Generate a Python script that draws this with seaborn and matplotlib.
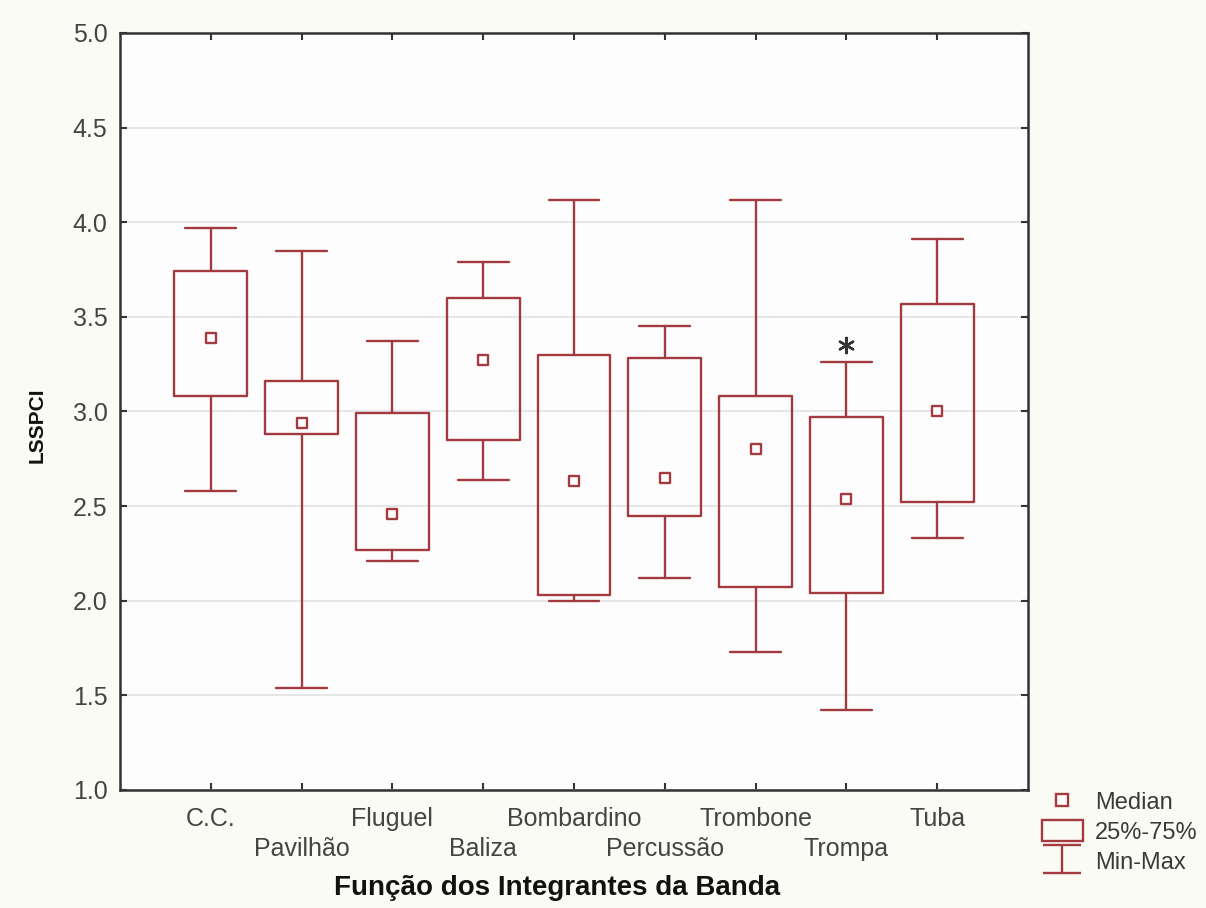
import numpy as np
import pandas as pd
import matplotlib
matplotlib.use("Agg")
import matplotlib.pyplot as plt
import seaborn as sns
from matplotlib.lines import Line2D
from matplotlib.patches import Patch
from matplotlib.legend_handler import HandlerErrorbar

# --- Dados --- #
funcoes = ["C.C.", "Pavilhão", "Fluguel", "Baliza", "Bombardino",
           "Percussão", "Trombone", "Trompa", "Tuba"]
minimo = [2.58, 1.54, 2.21, 2.64, 2.00, 2.12, 1.73, 1.42, 2.33]
q1 = [3.08, 2.88, 2.27, 2.85, 2.03, 2.45, 2.07, 2.04, 2.52]
mediana = [3.39, 2.94, 2.46, 3.27, 2.63, 2.65, 2.80, 2.54, 3.00]
q3 = [3.74, 3.16, 2.99, 3.60, 3.30, 3.28, 3.08, 2.97, 3.57]
maximo = [3.97, 3.85, 3.37, 3.79, 4.12, 3.45, 4.12, 3.26, 3.91]

# ponto marcado com asterisco
extremo_funcao = ["Trompa"]
extremo_valor = [3.35]

y_ticks = [1.0, 1.5, 2.0, 2.5, 3.0, 3.5, 4.0, 4.5, 5.0]

df = pd.DataFrame({"funcao": funcoes, "min": minimo, "q1": q1,
                   "med": mediana, "q3": q3, "max": maximo})
df["pos"] = np.arange(len(df))

cor = "#a23a40"
cinza = "#333333"

sns.set_style("ticks")
plt.rcParams["font.family"] = ["Liberation Sans", "DejaVu Sans"]

fig = plt.figure(figsize=(12.06, 9.08), dpi=100, facecolor="#fbfbf5")
ax = fig.add_axes([0.0995, 0.130, 0.7529, 0.8337])
ax.set_facecolor("#fdfdfd")

# --- Caixas (25%-75%) e Min-Max --- #
stats = [dict(med=r.med, q1=r.q1, q3=r.q3, whislo=r["min"], whishi=r["max"],
              fliers=[], label=r.funcao) for _, r in df.iterrows()]
ax.bxp(stats, positions=df["pos"], widths=0.8, capwidths=0.56,
       showfliers=False,
       boxprops=dict(color=cor, linewidth=1.7),
       whiskerprops=dict(color=cor, linewidth=1.7),
       capprops=dict(color=cor, linewidth=1.7),
       medianprops=dict(visible=False))

# Medianas
sns.scatterplot(data=df, x="pos", y="med", marker="s", s=60,
                facecolor="white", edgecolor=cor, linewidth=1.7,
                ax=ax, legend=False, zorder=5)

# Asterisco
pos_ext = [funcoes.index(f) for f in extremo_funcao]
sns.scatterplot(x=pos_ext, y=extremo_valor, marker=(6, 2, 0), s=120,
                color=cinza, linewidth=1.7, ax=ax, legend=False, zorder=5)

# --- Eixos --- #
ax.set_xlim(-1, len(funcoes))
ax.set_ylim(1, 5)
ax.set_yticks(y_ticks)
ax.set_yticklabels([f"{v:.1f}" for v in y_ticks])

# rotulos alternados: pares na primeira linha (major), impares na segunda (minor)
pares = df[df["pos"] % 2 == 0]
impares = df[df["pos"] % 2 == 1]
ax.set_xticks(pares["pos"])
ax.set_xticklabels(pares["funcao"])
ax.set_xticks(impares["pos"], minor=True)
ax.set_xticklabels(impares["funcao"], minor=True)
ax.tick_params(axis="y", which="minor", left=False, right=False)

ax.grid(axis="y", color="#e2e2e2", linewidth=1.2)
ax.set_axisbelow(True)

for s in ax.spines.values():
    s.set_visible(True)
    s.set_color(cinza)
    s.set_linewidth(1.8)

ax.tick_params(axis="both", which="both", direction="in", length=5,
               width=1.5, color=cinza, labelcolor="#444444",
               top=True, right=True)
ax.tick_params(axis="y", labelsize=18, pad=9)
ax.tick_params(axis="x", which="major", labelsize=18, pad=12)
ax.tick_params(axis="x", which="minor", labelsize=18, pad=34)

ax.set_xlabel("Função dos Integrantes da Banda", fontsize=20,
              fontweight="bold", color="#111111")
ax.xaxis.set_label_coords((557 - 120) / 908, (790 - 888) / 757)
ax.xaxis.label.set_va("center")
ax.set_ylabel("LSSPCI", fontsize=15, fontweight="bold", color="#111111")
ax.yaxis.set_label_coords((37 - 120) / 908, (790 - 425) / 757)
ax.yaxis.label.set_va("center")

# --- Legenda --- #
h_med = Line2D([], [], marker="s", linestyle="none", markersize=8,
               markerfacecolor="white", markeredgecolor=cor,
               markeredgewidth=1.7)
h_box = Patch(facecolor="none", edgecolor=cor, linewidth=1.7)
h_mm = ax.errorbar([np.nan], [np.nan], yerr=[1], fmt="none", ecolor=cor,
                   elinewidth=1.7, capsize=14, capthick=1.7)
fig.legend([h_med, h_box, h_mm], ["Median", "25%-75%", "Min-Max"],
           loc="upper left", bbox_to_anchor=(1030 / 1206, 1 - 779 / 908),
           frameon=False, fontsize=17, handlelength=1.75, handleheight=1.0,
           handletextpad=0.5, labelspacing=0.25, borderpad=0,
           labelcolor="#3a3a3a",
           handler_map={type(h_mm): HandlerErrorbar(yerr_size=0.6)})

fig.savefig("out.png", dpi=100, facecolor=fig.get_facecolor())
